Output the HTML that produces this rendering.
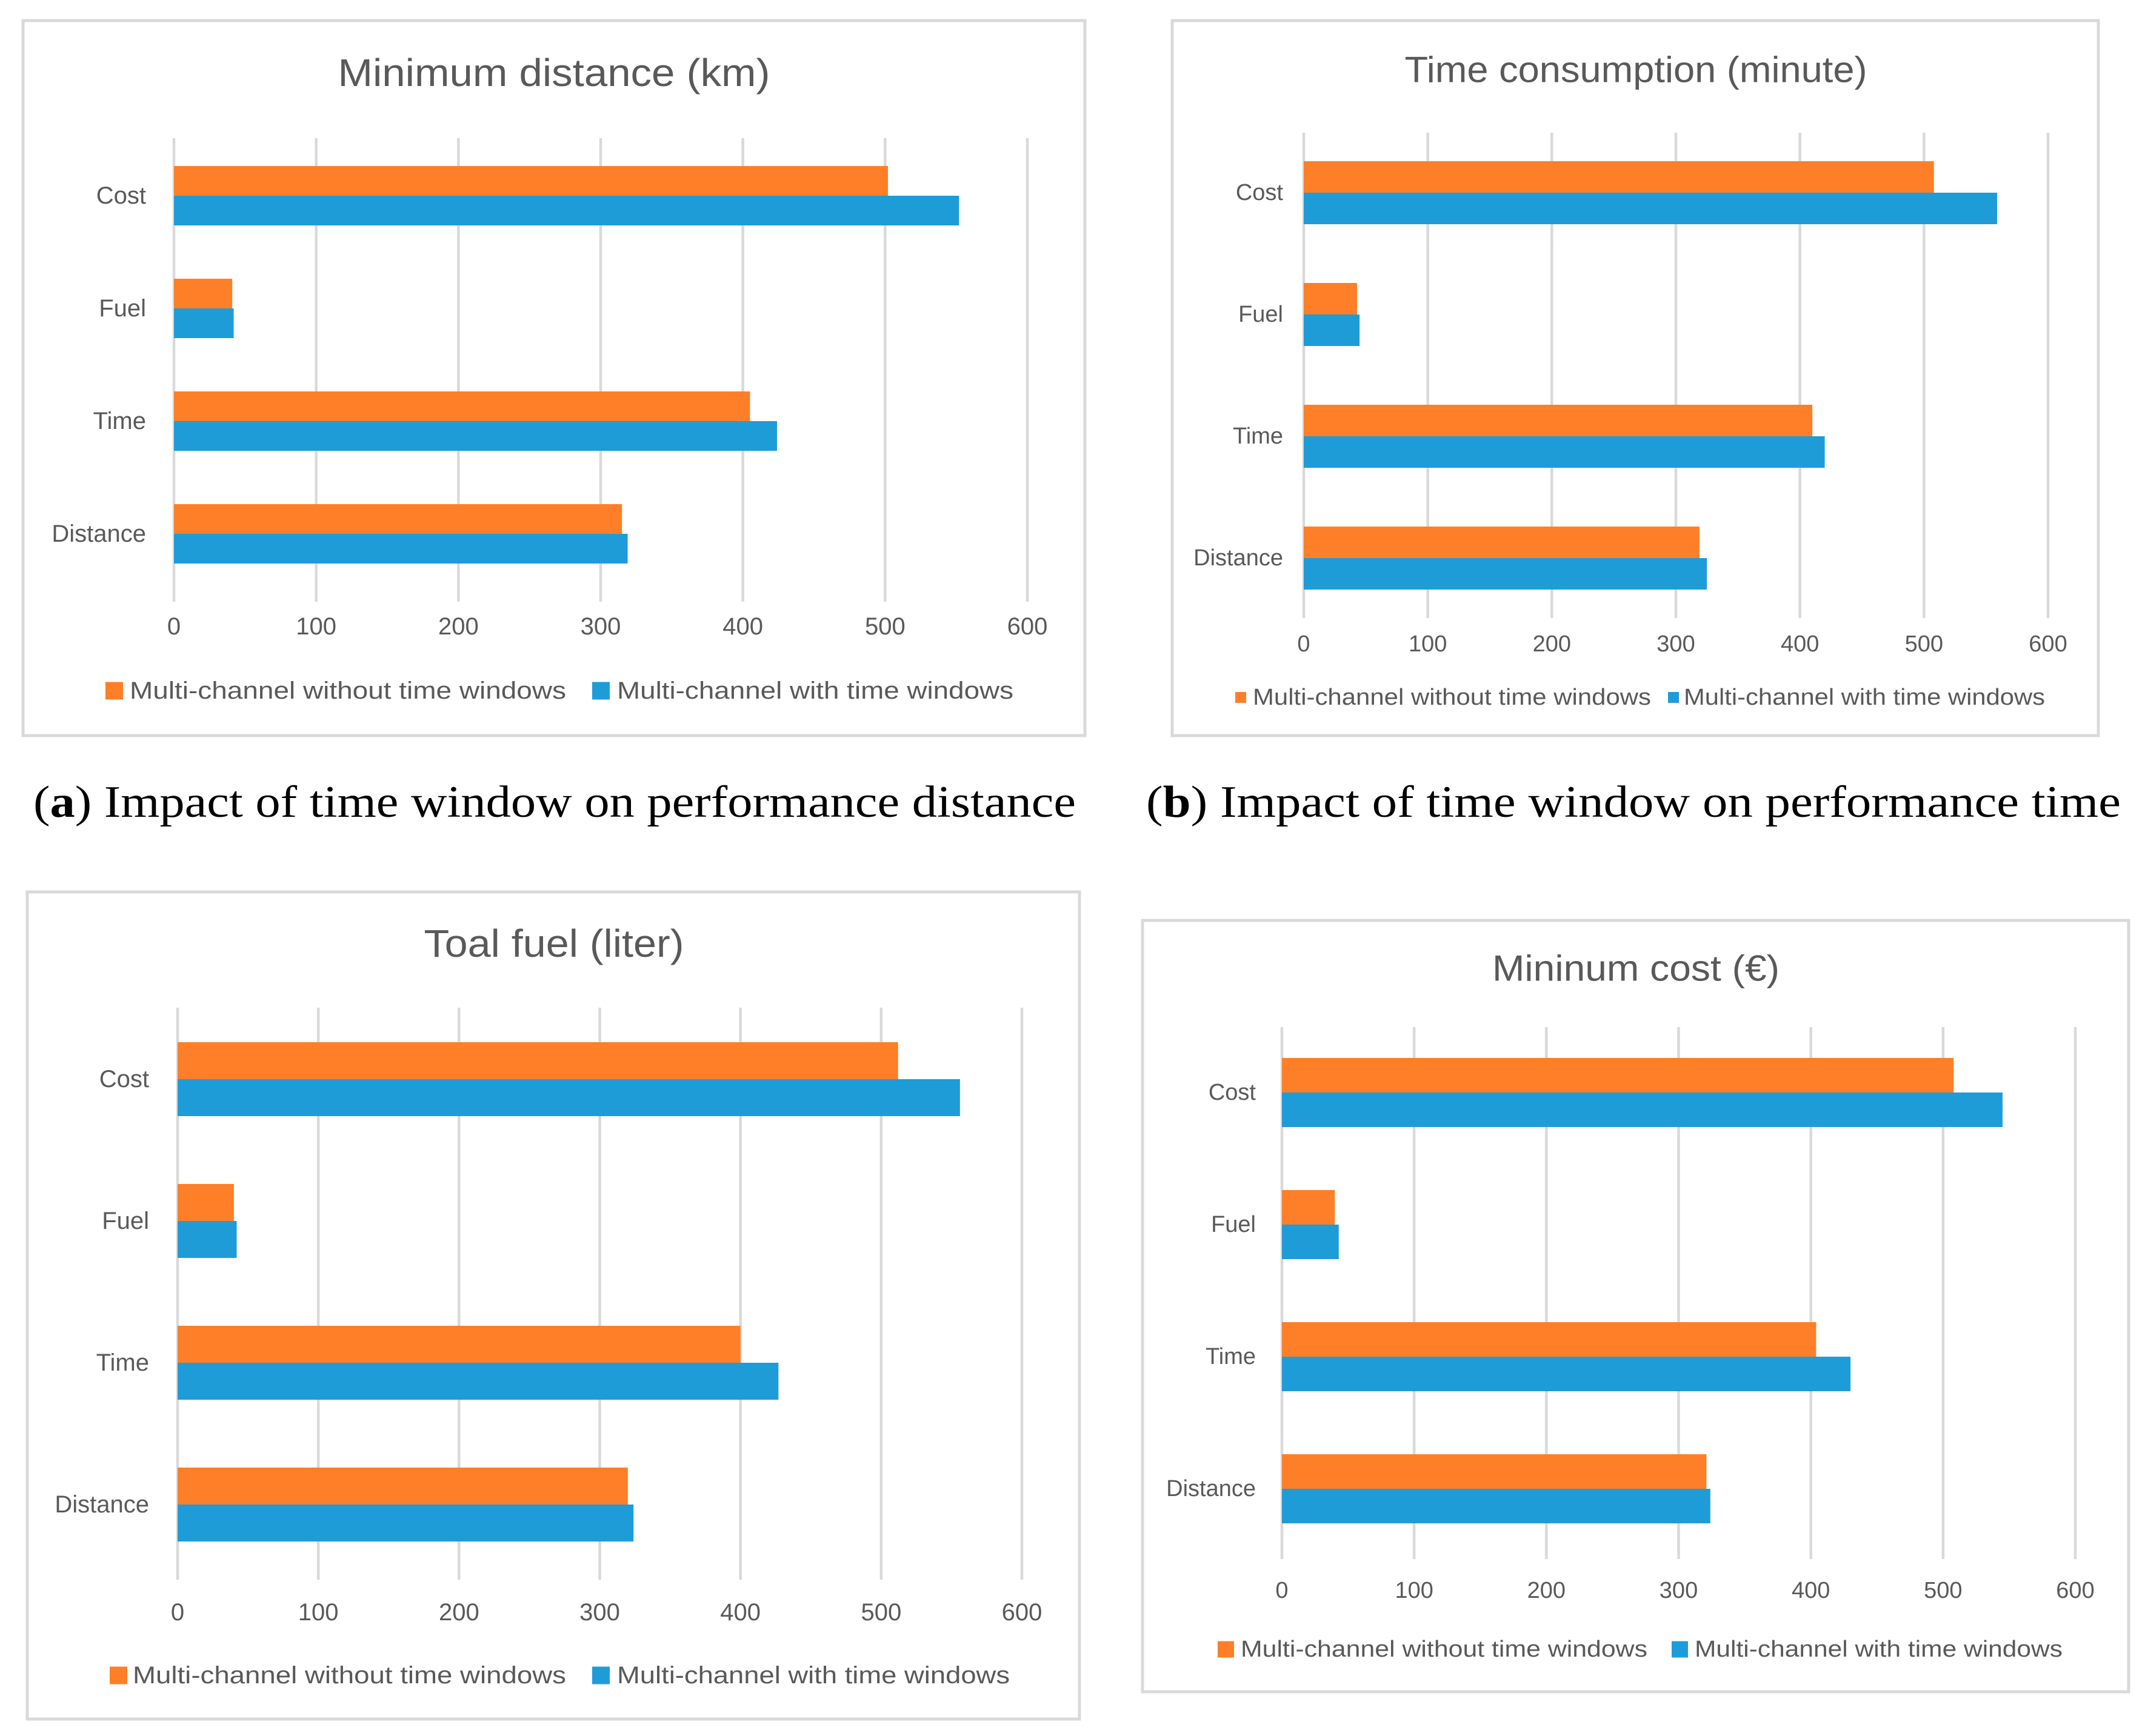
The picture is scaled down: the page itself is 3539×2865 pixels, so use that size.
<!DOCTYPE html>
<html><head><meta charset="utf-8"><style>
html,body{margin:0;padding:0;background:#fff;}
svg{display:block;}
text{font-family:"Liberation Sans",sans-serif;}
</style></head><body>
<svg id="fig" width="3539" height="2865" viewBox="0 0 3539 2865" xmlns="http://www.w3.org/2000/svg">
<rect x="0" y="0" width="3539" height="2865" fill="#fff"/>
<text x="55" y="1348" font-family="Liberation Serif, serif" font-size="74" fill="#000" textLength="1720" lengthAdjust="spacingAndGlyphs" style="font-family:'Liberation Serif',serif">(<tspan font-weight="bold">a</tspan>) Impact of time window on performance distance</text>
<text x="1891" y="1348" font-family="Liberation Serif, serif" font-size="74" fill="#000" textLength="1608" lengthAdjust="spacingAndGlyphs" style="font-family:'Liberation Serif',serif">(<tspan font-weight="bold">b</tspan>) Impact of time window on performance time</text>
</svg>
<script>
const categories = ["Cost", "Fuel", "Time", "Distance"];
const tickValues = [0, 100, 200, 300, 400, 500, 600];
const legendLabels = ["Multi-channel without time windows", "Multi-channel with time windows"];
const titleA = "Minimum distance (km)";
const withoutA = [502, 41, 405, 315];
const withA = [552, 42, 424, 319];
const titleB = "Time consumption (minute)";
const withoutB = [508, 43, 410, 319];
const withB = [559, 45, 420, 325];
const titleC = "Toal fuel (liter)";
const withoutC = [512, 40, 400, 320];
const withC = [556, 42, 427, 324];
const titleD = "Mininum cost (€)";
const withoutD = [508, 40, 404, 321];
const withD = [545, 43, 430, 324];

const NS = "http://www.w3.org/2000/svg";
const svg = document.getElementById("fig");
function mk(tag, attrs, parent) {
  const e = document.createElementNS(NS, tag);
  for (const k in attrs) e.setAttribute(k, attrs[k]);
  parent.appendChild(e);
  return e;
}
const ORANGE = "#FE7F27", BLUE = "#1E9CD8", GRID = "#d9d9d9", TXT = "#595959";

function drawChart(cfg, title, s1, s2, id) {
  const g = mk("g", {}, svg);
  
  
  const b = cfg.border;
  const br = mk("rect", {x: b[0], y: b[1], width: b[2] - b[0], height: b[3] - b[1], fill: "#fff", stroke: GRID, "stroke-width": 5}, g);
  
  
  const t = mk("text", {x: cfg.cx, y: cfg.titleY, "text-anchor": "middle", "dominant-baseline": "central", "font-size": cfg.titleSize, fill: TXT, textLength: cfg.titleLen, lengthAdjust: "spacingAndGlyphs"}, g);
  t.textContent = title;
  
  
  const xs = v => cfg.x0 + (v - 0) / 600 * (cfg.x1 - cfg.x0);
  const yc = i => cfg.c0 + i * cfg.band;
  tickValues.forEach(v => {
    const l = mk("line", {x1: xs(v), x2: xs(v), y1: cfg.gTop, y2: cfg.gBot, stroke: GRID, "stroke-width": 4.5}, g);
    
    
    const tt = mk("text", {x: xs(v), y: cfg.tickY, "text-anchor": "middle", "dominant-baseline": "central", "font-size": cfg.fs, fill: TXT}, g);
    tt.textContent = String(v);
    
    
  });
  categories.forEach((c, i) => {
    const r1 = mk("rect", {x: xs(0), y: yc(i) - cfg.barH, width: xs(s1[i]) - xs(0), height: cfg.barH, fill: ORANGE}, g);
    
    
    const r2 = mk("rect", {x: xs(0), y: yc(i), width: xs(s2[i]) - xs(0), height: cfg.barH, fill: BLUE}, g);
    
    
    const ct = mk("text", {x: cfg.catRight, y: yc(i), "text-anchor": "end", "dominant-baseline": "central", "font-size": cfg.fs, fill: TXT}, g);
    ct.textContent = c;
    
    
  });
  const cols = [ORANGE, BLUE];
  cfg.leg.forEach((L, k) => {
    const sq = mk("rect", {x: L[0], y: cfg.legY - L[1] / 2, width: L[1], height: L[1], fill: cols[k]}, g);
    
    
    const lt = mk("text", {x: L[2], y: cfg.legY, "dominant-baseline": "central", "font-size": cfg.fs, fill: TXT, textLength: L[3], lengthAdjust: "spacingAndGlyphs"}, g);
    lt.textContent = legendLabels[k];
    
    
  });
}

drawChart({border: [38, 34, 1790, 1214], cx: 914, titleY: 120, titleSize: 64, titleLen: 713,
  x0: 287, x1: 1695, gTop: 228, gBot: 993, c0: 323, band: 186, barH: 49, tickY: 1034, catRight: 241, fs: 40,
  legY: 1140, leg: [[174, 29, 214, 720], [977, 29, 1018, 654]]}, titleA, withoutA, withA, "a");
drawChart({border: [1934, 34, 3462, 1214], cx: 2699, titleY: 115, titleSize: 60, titleLen: 763,
  x0: 2151, x1: 3379, gTop: 219, gBot: 1020, c0: 318, band: 201, barH: 52, tickY: 1063, catRight: 2117, fs: 38,
  legY: 1151, leg: [[2038, 18, 2067, 657], [2752, 18, 2778, 596]]}, titleB, withoutB, withB, "b");
drawChart({border: [45, 1472, 1781, 2837], cx: 914, titleY: 1557, titleSize: 64, titleLen: 429,
  x0: 293, x1: 1686, gTop: 1663, gBot: 2607, c0: 1781, band: 234, barH: 61, tickY: 2661, catRight: 246, fs: 40,
  legY: 2765, leg: [[181, 29, 219, 715], [977, 29, 1018, 648]]}, titleC, withoutC, withC, "c");
drawChart({border: [1885, 1519, 3512, 2792], cx: 2699, titleY: 1598, titleSize: 60, titleLen: 474,
  x0: 2115, x1: 3424, gTop: 1695, gBot: 2573, c0: 1803, band: 218, barH: 57, tickY: 2625, catRight: 2072, fs: 38,
  legY: 2722, leg: [[2009, 27, 2047, 671], [2758, 27, 2796, 607]]}, titleD, withoutD, withD, "d");
</script>
</body></html>
